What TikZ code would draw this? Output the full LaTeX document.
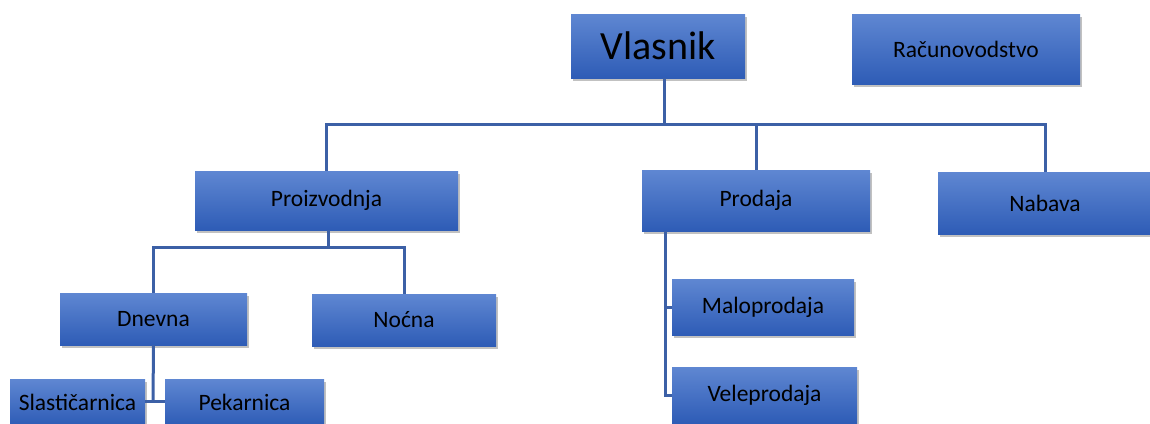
\documentclass[tikz,border=0pt]{standalone}
\usepackage{fontspec}
\setmainfont{Carlito}
\usetikzlibrary{shadows,positioning}
\definecolor{boxtop}{RGB}{95,135,210}
\definecolor{boxbot}{RGB}{46,92,182}
\definecolor{linkblue}{RGB}{60,96,166}
\tikzset{
  unit/.style={draw=none, top color=boxtop, bottom color=boxbot,
    minimum height=#1, inner sep=0pt, font=\fontsize{23.5}{26}\selectfont,
    drop shadow={shadow xshift=2pt, shadow yshift=-3pt, opacity=0.35, fill=black!70}},
  unit/.default=58pt,
  link/.style={draw=linkblue, line width=3pt}
}
\begin{document}
\begin{tikzpicture}[x=1pt,y=-1pt]
\useasboundingbox (0,0) rectangle (1150,423);
% top level
\node[unit=64pt, minimum width=174pt, font=\fontsize{40}{42}\selectfont] (vl) at (658,46) {Vlasnik};
\node[unit=70pt, minimum width=228pt] (rc) at (966,49) {Računovodstvo};
% departments
\node[unit=59pt, minimum width=263pt] (pr) at (326.5,200.5) {Proizvodnja};
\node[unit=61pt, minimum width=228pt] (pd) at (756,200.5) {Prodaja};
\node[unit=62pt, minimum width=214pt] (nb) at (1045,203) {Nabava};
% production shifts
\node[unit=52pt, minimum width=187pt] (dn) at (153.5,319) {Dnevna};
\node[unit=52pt, minimum width=184pt] (no) at (404,320) {Noćna};
% day shift units
\node[unit=46pt, minimum width=135pt] (sl) at (77.5,402) {Slastičarnica};
\node[unit=46pt, minimum width=159pt] (pk) at (244.5,402) {Pekarnica};
% sales channels
\node[unit=56pt, minimum width=182pt] (ma) at (763,307) {Maloprodaja};
\node[unit=56pt, minimum width=185pt] (ve) at (764.5,395) {Veleprodaja};
% owner to departments
\coordinate (vj) at (664,124);
\draw[link] (vl.south -| vj) -- (vj) -- (vj -| pr.north) -- (pr.north);
\draw[link] (vj) -- (vj -| nb.north) -- (nb.north);
\draw[link] (vj -| pd.north) -- (pd.north);
% production to shifts
\coordinate (pj) at (328,247);
\draw[link] (pr.south -| pj) -- (pj) -- (pj -| dn.north) -- (dn.north);
\draw[link] (pj) -- (pj -| no.north) -- (no.north);
% day shift to units
\coordinate (dj) at (153,401);
\draw[link] (dn.south) -- (dj);
\draw[link] (sl.east |- dj) -- (pk.west |- dj);
% sales to channels
\coordinate (sj) at (665,395);
\draw[link] (pd.south -| sj) -- (sj) -- (sj -| ve.west);
\draw[link] (ma.west) -- (ma.west -| sj);
\end{tikzpicture}
\end{document}
